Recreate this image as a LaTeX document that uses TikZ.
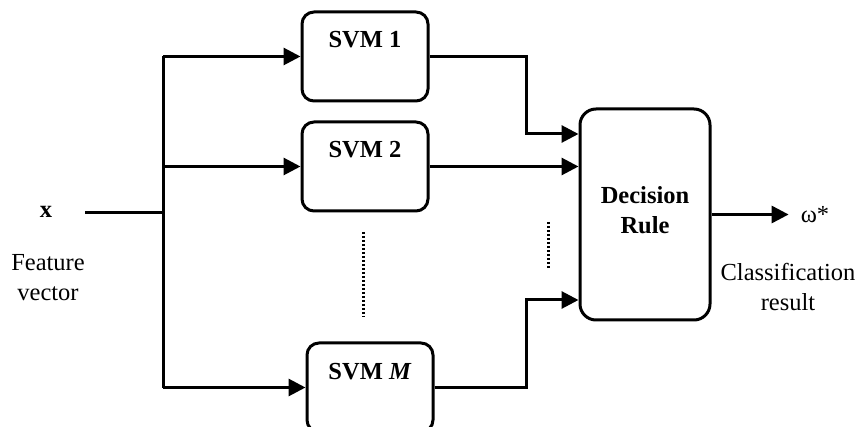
\documentclass[tikz,border=0pt]{standalone}
\usepackage{fontspec}
\setmainfont{Liberation Serif}
\usetikzlibrary{arrows.meta,positioning}
\newcommand{\diagsize}{\fontsize{24.5}{29.5}\selectfont}
\tikzset{
  svmbox/.style={draw,line width=3pt,rounded corners=12pt,minimum width=126pt,minimum height=89pt,
    font=\diagsize\bfseries,text height=17pt,text depth=34pt,inner sep=0pt},
  rulebox/.style={draw,line width=3pt,rounded corners=16pt,minimum width=130pt,minimum height=211pt,
    font=\diagsize\bfseries,align=center,text depth=9pt},
  wire/.style={line width=3pt},
  feed/.style={wire,-{Triangle[length=17pt,width=17pt]}},
  dots/.style={line width=3pt,dash pattern=on 2pt off 2pt}
}
\begin{document}
\begin{tikzpicture}[x=1pt,y=-1pt,font=\diagsize]
    \useasboundingbox (0,0) rectangle (859,427);
    \node[svmbox] (svmone) at (365,56.5) {SVM 1};
    \node[svmbox] (svmtwo) at (365,166.5) {SVM 2};
    \node[svmbox] (svmm) at (370,387.5) {SVM \textit{M}};
    \node[rulebox] (rule) at (645,214.5) {Decision\\Rule};
    \node[font=\diagsize\bfseries,inner sep=0pt] (xvec) at (46,212) {x};
    \node[align=center] (featlabel) at (48,277.5) {Feature\\vector};
    \node[inner sep=12pt] (omega) at (815,214.5) {ω*};
    \node[align=center] (classlabel) at (788,287) {Classification\\result};
    \coordinate (xin) at (85,213);
    \coordinate (split) at (163,213);
    \coordinate (top) at (163,56.5);
    \coordinate (bottom) at (163,387.5);
    \draw[wire] (xin) -- (split);
    \draw[wire] (top) -- (bottom);
    \draw[feed] (top) -- (svmone.west);
    \draw[feed] (split |- svmtwo.west) -- (svmtwo.west);
    \draw[feed] (bottom) -- (svmm.west);
    \draw[feed] (svmone.east) -- (526,56.5) -- (526,134) -- (rule.west |- 0,134);
    \draw[feed] (svmtwo.east) -- (rule.west |- svmtwo.east);
    \draw[feed] (svmm.east) -- (526,387.5) -- (526,300) -- (rule.west |- 0,300);
    \draw[feed] (rule.east) -- (omega.west);
    \draw[dots] (363,232) -- (363,317);
    \draw[dots] (548,222) -- (548,268);
\end{tikzpicture}
\end{document}
